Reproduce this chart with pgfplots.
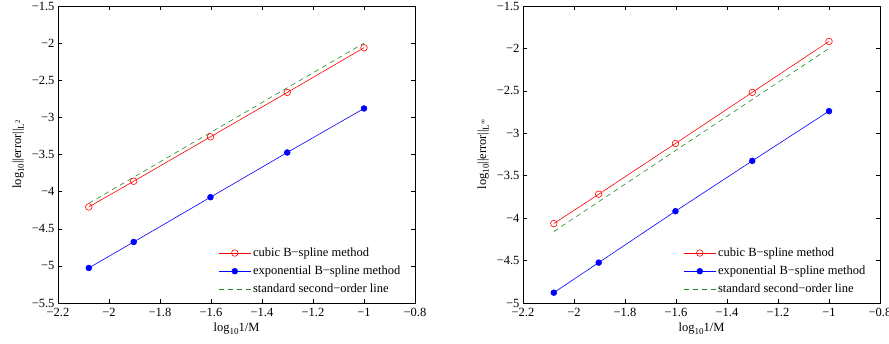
\documentclass[border=0pt]{standalone}
\usepackage{pgfplots}
\pgfplotsset{compat=1.18}
\usepackage{fontspec}
\setmainfont{Liberation Serif}
\definecolor{mgreen}{RGB}{30,140,30}
\newcommand{\sub}[1]{\raisebox{-0.45ex}{\fontsize{9}{9}\selectfont #1}}
\pgfplotsset{
  myaxis/.style={
    scale only axis, width=357pt, height=297pt,
    xmin=-2.2, xmax=-0.8,
    xtick={-2.2,-2,...,-0.8},
    xticklabels={−2.2,−2,−1.8,−1.6,−1.4,−1.2,−1,−0.8},
    tick align=inside, major tick length=4pt,
    tick style={black, line width=0.5pt},
    axis line style={line width=0.6pt},
    tick label style={font=\fontsize{12.5}{14}\selectfont},
    xticklabel style={yshift=-2pt},
    label style={font=\fontsize{12.5}{14}\selectfont},
    xlabel={log\sub{10}1/M},
    xlabel style={yshift=1pt},
    ylabel style={yshift=1pt},
    legend style={at={(0.968,0.018)}, anchor=south east, draw=none, fill=none,
      font=\fontsize{12.5}{14}\selectfont, row sep=4pt, cells={anchor=west},
      inner sep=1pt},
    legend image code/.code={
      \draw[mark repeat=2,mark phase=2,#1] plot coordinates {(0pt,0pt)(16pt,0pt)(32pt,0pt)};
    },
  },
  cub/.style={red, line width=0.6pt, mark=o, mark size=3.3pt, mark options={solid, line width=0.6pt}},
  expo/.style={blue, line width=0.6pt, mark=*, mark size=2.9pt, mark options={solid}},
  std/.style={mgreen, line width=0.6pt, dash pattern=on 5pt off 4pt, no marks},
}
\begin{document}
\begin{tikzpicture}
\path[use as bounding box] (-58pt,-40pt) rectangle (831pt,303pt);
\begin{axis}[myaxis, at={(0pt,0pt)},
  ymin=-5.5, ymax=-1.5, ytick={-5.5,-5,...,-1.5},
  yticklabels={−5.5,−5,−4.5,−4,−3.5,−3,−2.5,−2,−1.5},
  ylabel={log\sub{10}||error||\sub{L\raisebox{0.9ex}{\fontsize{7}{7}\selectfont 2}}}]
\addplot[cub] coordinates {(-2.0792,-4.206)(-1.9031,-3.860)(-1.6021,-3.262)(-1.3010,-2.664)(-1.0,-2.062)};
\addlegendentry{cubic B−spline method}
\addplot[expo] coordinates {(-2.0792,-5.028)(-1.9031,-4.678)(-1.6021,-4.075)(-1.3010,-3.473)(-1.0,-2.880)};
\addlegendentry{exponential B−spline method}
\addplot[std] coordinates {(-2.0792,-4.158)(-1.0,-2.0)};
\addlegendentry{standard second−order line}
\end{axis}
\begin{axis}[myaxis, at={(465pt,0pt)},
  ymin=-5, ymax=-1.5, ytick={-5,-4.5,...,-1.5},
  yticklabels={−5,−4.5,−4,−3.5,−3,−2.5,−2,−1.5},
  ylabel={log\sub{10}||error||\sub{L\raisebox{0.9ex}{\fontsize{7}{7}\selectfont ∞}}}]
\addplot[cub] coordinates {(-2.0792,-4.064)(-1.9031,-3.718)(-1.6021,-3.120)(-1.3010,-2.518)(-1.0,-1.917)};
\addlegendentry{cubic B−spline method}
\addplot[expo] coordinates {(-2.0792,-4.878)(-1.9031,-4.524)(-1.6021,-3.918)(-1.3010,-3.325)(-1.0,-2.739)};
\addlegendentry{exponential B−spline method}
\addplot[std] coordinates {(-2.0792,-4.158)(-1.0,-2.0)};
\addlegendentry{standard second−order line}
\end{axis}
\end{tikzpicture}
\end{document}
